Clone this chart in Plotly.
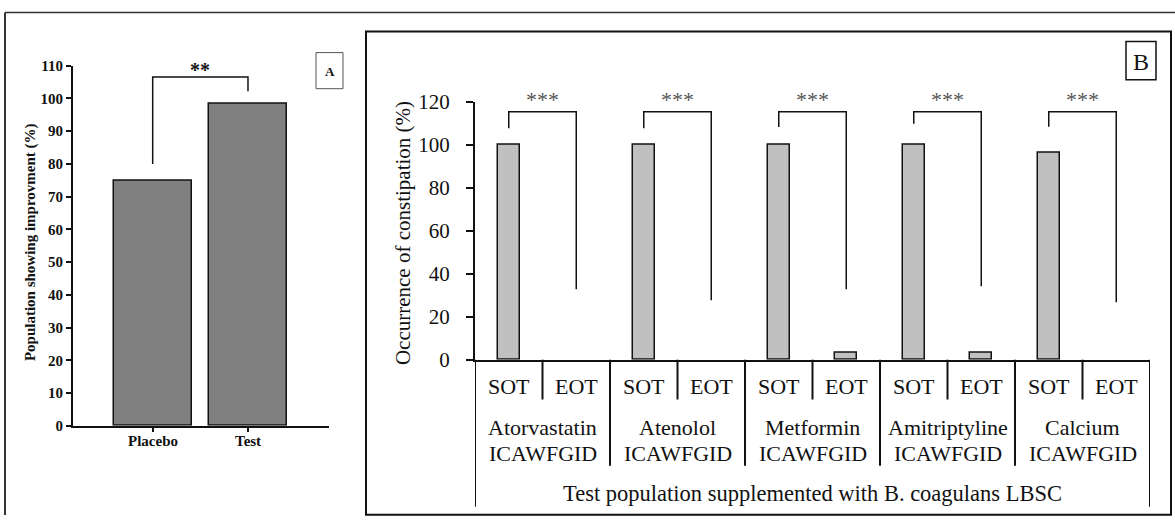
import plotly.graph_objects as go

W, H = 1175, 527

# ---------------- Data: panel A ----------------
groups_a = ["Placebo", "Test"]
improvement_a = [75, 98.5]
bracket_a_y = [80, 106.5, 106.5, 102.2]
yticks_a = list(range(0, 111, 10))
ytitle_a = "Population showing improvment (%)"
sig_a = "**"

# ---------------- Data: panel B ----------------
drugs = ["Atorvastatin", "Atenolol", "Metformin", "Amitriptyline", "Calcium"]
group_suffix = "ICAWFGID"
timepoints = ["SOT", "EOT"]
sot_values = [100, 100, 100, 100, 96.5]
eot_values = [0, 0, 3.4, 3.4, 0]
bracket_left_start = [107.7, 107.7, 108.3, 109.7, 108.4]
bracket_top = 115.3
bracket_right_end = [32.8, 27.6, 32.8, 34.2, 26.7]
yticks_b = [0, 20, 40, 60, 80, 100, 120]
ytitle_b = "Occurrence of constipation (%)"
population_label = "Test population supplemented with B. coagulans LBSC"
sig_b = "***"

SERIF = "Liberation Serif, Times New Roman, serif"

# vertical calibration of the page capture
Y_OFF, Y_SCALE = 11.5, 0.952


def px_x(p):
    return p / W


def px_y(p):
    return 1 - ((p - Y_OFF) / Y_SCALE) / H


def label(text, x, y, xref="paper", size=22, color="#111111", bold=False, angle=0):
    return dict(text=text, xref=xref, yref="paper", x=x, y=y,
                xanchor="center", yanchor="middle", showarrow=False,
                textangle=angle,
                font=dict(family=SERIF, size=size, color=color,
                          weight="bold" if bold else "normal"))


fig = go.Figure()

# Panel A bars
fig.add_trace(go.Bar(
    x=[0, 1], y=improvement_a, width=0.815,
    marker=dict(color="#808080", line=dict(color="#111111", width=1.5)),
    xaxis="x", yaxis="y", showlegend=False,
))
# Panel A bracket
fig.add_trace(go.Scatter(
    x=[0, 0, 1, 1], y=bracket_a_y, mode="lines",
    line=dict(color="#111111", width=1.5),
    xaxis="x", yaxis="y", showlegend=False, cliponaxis=False,
))

# Panel B bars (zero-height bars left undrawn)
bx, by = [], []
for i in range(len(drugs)):
    for j, v in enumerate([sot_values[i], eot_values[i]]):
        bx.append(2 * i + j)
        by.append(v if v > 0 else None)
fig.add_trace(go.Bar(
    x=bx, y=by, width=0.32,
    marker=dict(color="#c0c0c0", line=dict(color="#111111", width=1.5)),
    xaxis="x2", yaxis="y2", showlegend=False,
))
# Panel B brackets
for i in range(len(drugs)):
    fig.add_trace(go.Scatter(
        x=[2 * i, 2 * i, 2 * i + 1, 2 * i + 1],
        y=[bracket_left_start[i], bracket_top, bracket_top, bracket_right_end[i]],
        mode="lines", line=dict(color="#111111", width=1.5),
        xaxis="x2", yaxis="y2", showlegend=False, cliponaxis=False,
    ))

annotations = []
shapes = []

# Outer frame (top and left lines)
shapes.append(dict(type="line", xref="paper", yref="paper",
                   x0=px_x(5), x1=1.0, y0=px_y(12), y1=px_y(12),
                   line=dict(color="#333333", width=1.5)))
shapes.append(dict(type="line", xref="paper", yref="paper",
                   x0=px_x(5), x1=px_x(5), y0=px_y(12), y1=0,
                   line=dict(color="#333333", width=2)))
# Panel B frame
shapes.append(dict(type="rect", xref="paper", yref="paper",
                   x0=px_x(366), x1=px_x(1171), y0=px_y(513), y1=px_y(31),
                   line=dict(color="#111111", width=2)))
# A label box
shapes.append(dict(type="rect", xref="paper", yref="paper",
                   x0=px_x(316), x1=px_x(343), y0=px_y(88), y1=px_y(52),
                   line=dict(color="#555555", width=1)))
annotations.append(label("A", px_x(329.5), px_y(70.5), size=13, bold=True))
# B label box
shapes.append(dict(type="rect", xref="paper", yref="paper",
                   x0=px_x(1126), x1=px_x(1156), y0=px_y(79), y1=px_y(41),
                   line=dict(color="#111111", width=1.5)))
annotations.append(label("B", px_x(1141), px_y(61), size=24))

# Panel A y title
annotations.append(label(ytitle_a, px_x(30), px_y(241), size=15, bold=True, angle=-90))
# Panel A significance
annotations.append(label(sig_a, 0.5, px_y(69), xref="x", size=20, bold=True))
# Panel A category labels
for i, g in enumerate(groups_a):
    annotations.append(label(g, i, px_y(439), xref="x", size=15, bold=True))

# Panel B y title
annotations.append(label(ytitle_b, px_x(403), px_y(232), size=21, angle=-90))

# Panel B significance stars
for i in range(len(drugs)):
    annotations.append(label(sig_b, 2 * i + 0.5, px_y(99), xref="x2", size=22, color="#555555"))

# Panel B multi-level category labels
for i, d in enumerate(drugs):
    for j, t in enumerate(timepoints):
        annotations.append(label(t, 2 * i + j, px_y(385), xref="x2"))
    annotations.append(label(d, 2 * i + 0.5, px_y(426), xref="x2"))
    annotations.append(label(group_suffix, 2 * i + 0.5, px_y(452), xref="x2"))
annotations.append(label(population_label, 4.5, px_y(492), xref="x2", size=22.5))

# Divider lines below panel B axis
n_cat = 2 * len(drugs)
for k in range(n_cat + 1):
    xb = k - 0.5
    if k == 0 or k == n_cat:
        ybot = 505
    elif k % 2 == 1:
        ybot = 398
    else:
        ybot = 464
    shapes.append(dict(type="line", xref="x2", yref="paper",
                       x0=xb, x1=xb, y0=px_y(358.3), y1=px_y(ybot),
                       line=dict(color="#111111", width=2)))

fig.update_layout(
    width=W, height=H,
    margin=dict(l=0, r=0, t=0, b=0),
    paper_bgcolor="white", plot_bgcolor="white",
    showlegend=False,
    bargap=0,
    xaxis=dict(domain=[px_x(73), px_x(329)], range=[-0.836, 1.85],
               tickvals=[0, 1], showticklabels=False,
               showline=True, linecolor="#111111", linewidth=2,
               ticks="outside", ticklen=4, tickwidth=1.5, tickcolor="#111111",
               showgrid=False, zeroline=False,
               anchor="y", fixedrange=True),
    yaxis=dict(domain=[px_y(424.3), px_y(65)], range=[0, 110],
               tickvals=yticks_a,
               showline=True, linecolor="#111111", linewidth=2,
               ticks="outside", ticklen=5, tickwidth=1.5, tickcolor="#111111",
               showgrid=False, zeroline=False,
               tickfont=dict(family=SERIF, size=15, color="#111111", weight="bold"),
               anchor="x", fixedrange=True),
    xaxis2=dict(domain=[px_x(475), px_x(1150)], range=[-0.5, 9.5],
                showline=True, linecolor="#111111", linewidth=2,
                ticks="", showticklabels=False,
                showgrid=False, zeroline=False,
                anchor="y2", fixedrange=True),
    yaxis2=dict(domain=[px_y(358.3), px_y(101)], range=[0, 120],
                tickvals=yticks_b,
                showline=True, linecolor="#111111", linewidth=2,
                ticks="outside", ticklen=7, tickwidth=1.5, tickcolor="#111111",
                ticklabelstandoff=12,
                showgrid=False, zeroline=False,
                tickfont=dict(family=SERIF, size=21, color="#111111"),
                anchor="x2", fixedrange=True),
    shapes=shapes,
    annotations=annotations,
)

post = (
    "var de=document.documentElement;de.style.margin='0';de.style.padding='0';"
    "de.style.overflow='hidden';"
    "document.body.style.margin='0';document.body.style.padding='0';"
    "document.body.style.overflow='hidden';"
    "var gd=document.getElementById('{plot_id}');"
    "gd.style.position='fixed';gd.style.left='0px';gd.style.top='0px';"
)

fig.write_html(
    "out.html",
    config={"displayModeBar": False, "responsive": False},
    post_script=post,
)
